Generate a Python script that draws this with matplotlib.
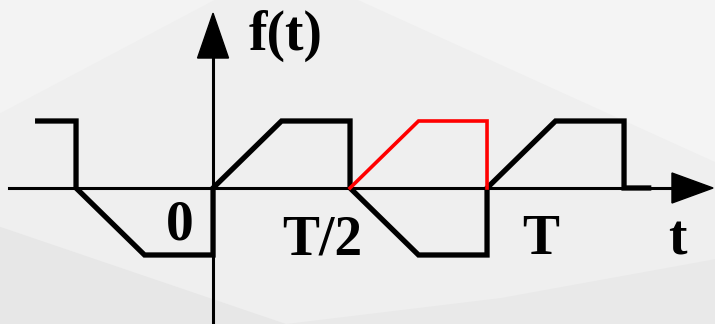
import matplotlib.pyplot as plt
import matplotlib.patches as mpatches

# waveform, time in units of T/2, amplitude in units of the plateau height
t_black = [-1.28, -1, -1, -0.5, 0, 0, 0.5, 1, 1, 1.5, 2, 2, 2.5, 3, 3, 3.18]
f_black = [1, 1, 0, -1, -1, 0, 1, 1, 0, -1, -1, 0, 1, 1, 0, 0]
t_red = [1, 1.5, 2, 2]
f_red = [0, 1, 1, 0]

tick_pos = [-0.24, 0.795, 2.39, 3.39]
tick_labels = ["0", "T/2", "T", "t"]

fig = plt.figure(figsize=(7.15, 3.24), dpi=100)
fig.patch.set_facecolor("#efefef")
ax = fig.add_axes([0, 0, 1, 1])
ax.set_xlim(-1.555, 3.664)
ax.set_ylim(-2.03, 2.806)
ax.axis("off")

# faint background facets
bg = [
    ([(0, 0), (0, 0.3), (0.4, 0.0)], "#e7e7e7"),
    ([(0.4, 0), (1, 0), (1, 0.2), (0.7, 0.08)], "#e9e9e9"),
    ([(0.5, 1), (1, 1), (1, 0.5)], "#f4f4f4"),
    ([(0, 1), (0.3, 1), (0, 0.65)], "#f3f3f3"),
]
for pts, c in bg:
    ax.add_patch(mpatches.Polygon(pts, closed=True, transform=ax.transAxes,
                                  facecolor=c, edgecolor="none", zorder=0))

# axes
ax.plot([-1.49, 3.36], [0, 0], color="black", lw=2.2, zorder=2)
ax.fill([3.35, 3.65, 3.35], [0.224, 0, -0.224], color="black", zorder=3)
ax.plot([0, 0], [-2.1, 1.95], color="black", lw=2.2, zorder=2)
ax.fill([-0.113, 0, 0.113], [1.94, 2.61, 1.94], color="black", zorder=3)

ax.plot(t_black, f_black, color="black", lw=3.8, solid_joinstyle="miter", zorder=4)
ax.plot(t_red, f_red, color="#ff0000", lw=2.6, solid_joinstyle="miter", zorder=5)

font = dict(family="Liberation Serif", fontweight="bold", fontsize=40)
ax.text(0.53, 2.27, "f(t)", ha="center", va="center", **font)
ax.text(tick_pos[0], -0.776, tick_labels[0], ha="center", va="baseline", **font)
for x, lab in zip(tick_pos[1:], tick_labels[1:]):
    ax.text(x, -0.99, lab, ha="center", va="baseline", **font)

fig.savefig("out.png", dpi=100, facecolor=fig.get_facecolor())
